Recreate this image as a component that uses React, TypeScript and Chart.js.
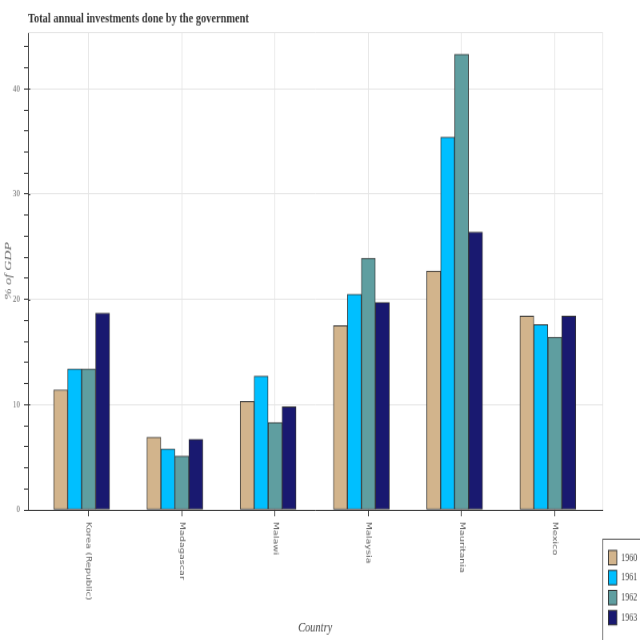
import React, { useEffect, useRef } from "react";
import { Chart, registerables } from "chart.js";

Chart.register(...registerables);

const chartTitle = "Total annual investments done by the government";
const countries = ["Korea (Republic)", "Madagascar", "Malawi", "Malaysia", "Mauritania", "Mexico"];
const years = ["1960", "1961", "1962", "1963"];
const v1960 = [11.4, 6.9, 10.3, 17.5, 22.7, 18.4];
const v1961 = [13.4, 5.8, 12.7, 20.5, 35.4, 17.6];
const v1962 = [13.4, 5.1, 8.3, 23.9, 43.3, 16.4];
const v1963 = [18.7, 6.7, 9.8, 19.7, 26.4, 18.4];
const seriesValues = [v1960, v1961, v1962, v1963];
const seriesColors = ["#D2B48C", "#00BFFF", "#5F9EA0", "#191970"];
const dodge = [-0.3, -0.15, 0, 0.15];
const yMax = 45.4;
const yMinorStep = 2;
const yMajorStep = 10;

const customPlugin = {
  id: "customDecor",
  beforeDatasetsDraw(chart: any) {
    const { ctx, chartArea: a } = chart;
    ctx.save();
    ctx.strokeStyle = "#e5e5e5";
    ctx.lineWidth = 1;
    ctx.beginPath();
    ctx.moveTo(a.left, Math.round(a.top) + 0.5);
    ctx.lineTo(Math.round(a.right) + 0.5, Math.round(a.top) + 0.5);
    ctx.lineTo(Math.round(a.right) + 0.5, a.bottom);
    ctx.stroke();
    ctx.restore();
  },
  afterDraw(chart: any) {
    const { ctx, chartArea: a } = chart;
    const xs = chart.scales.x;
    const ys = chart.scales.y;
    ctx.save();
    // title
    ctx.font = 'bold 13px "Liberation Serif", serif';
    ctx.fillStyle = "#333";
    ctx.textAlign = "left";
    ctx.textBaseline = "alphabetic";
    ctx.fillText(chartTitle, a.left, 20.5);

    // inward major ticks on y axis
    ctx.strokeStyle = "#333";
    ctx.lineWidth = 1;
    ys.ticks.forEach((t: any) => {
      if (t.value % yMajorStep === 0) {
        const py = Math.round(ys.getPixelForValue(t.value)) + 0.5;
        ctx.beginPath();
        ctx.moveTo(a.left, py);
        ctx.lineTo(a.left + 3, py);
        ctx.stroke();
      }
    });

    // x tick labels rotated clockwise
    ctx.font = '9px "DejaVu Sans", sans-serif';
    ctx.fillStyle = "#666";
    ctx.textAlign = "left";
    ctx.textBaseline = "middle";
    countries.forEach((c, i) => {
      const px = xs.getPixelForValue(i);
      ctx.save();
      ctx.translate(px, a.bottom + 11);
      ctx.rotate(Math.PI / 2);
      ctx.fillText(c, 0, 0);
      ctx.restore();
    });

    // legend
    const bx = Math.round(a.right) + 0.5;
    const by = 505.5;
    ctx.fillStyle = "#fff";
    ctx.fillRect(bx, by, 80, 120);
    ctx.strokeStyle = "#555";
    ctx.strokeRect(bx, by, 80, 120);
    ctx.font = '10px "Liberation Serif", serif';
    ctx.textBaseline = "middle";
    years.forEach((yr, k) => {
      const top = 516 + k * 18.75;
      ctx.fillStyle = seriesColors[k];
      ctx.fillRect(bx + 7, top, 10.5, 13.5);
      ctx.strokeStyle = "#333";
      ctx.strokeRect(bx + 7, top, 10.5, 13.5);
      ctx.fillStyle = "#444";
      ctx.fillText(yr, bx + 23, top + 7);
    });
    ctx.restore();
  },
};

export default function App() {
  const ref = useRef<HTMLCanvasElement>(null);
  useEffect(() => {
    document.body.style.margin = "0";
    const canvas = ref.current;
    if (!canvas) return;
    const datasets = years.map((yr, d) => ({
      label: yr,
      data: countries.map((_, i) => ({ x: i + dodge[d], y: seriesValues[d][i] })),
      backgroundColor: seriesColors[d],
      borderColor: "#333",
      borderWidth: 1,
      borderSkipped: false as any,
      grouped: false,
      barPercentage: 1,
      categoryPercentage: 1,
    }));
    const chart = new Chart(canvas, {
      type: "bar",
      data: { datasets },
      plugins: [customPlugin],
      options: {
        responsive: false,
        animation: false,
        devicePixelRatio: 1,
        layout: { padding: { top: 30, right: 47, left: 0, bottom: 0 } },
        plugins: { legend: { display: false }, tooltip: { enabled: false }, title: { display: false } },
        scales: {
          x: {
            type: "linear",
            position: "bottom",
            offset: false,
            min: -0.65,
            max: 5.51,
            afterBuildTicks: (scale: any) => {
              scale.ticks = countries.map((_, i) => ({ value: i }));
            },
            afterFit: (scale: any) => {
              scale.height = 122;
            },
            ticks: { display: false },
            grid: { offset: false, color: "#e5e5e5", tickColor: "#333", tickLength: 6, drawTicks: true },
            border: { color: "#333", width: 1 },
            title: {
              display: true,
              text: "Country",
              color: "#444",
              font: { family: '"Liberation Serif", serif', size: 13, style: "italic" },
              padding: { top: 0, bottom: 4 },
            },
          },
          y: {
            type: "linear",
            min: 0,
            max: yMax,
            afterBuildTicks: (scale: any) => {
              const t = [];
              for (let v = 0; v <= yMax; v += yMinorStep) t.push({ value: v });
              scale.ticks = t;
            },
            afterFit: (scale: any) => {
              scale.width = 35;
            },
            ticks: {
              autoSkip: false,
              padding: 5,
              color: "#666",
              font: { family: '"Liberation Serif", serif', size: 9 },
              callback: (v: any) => (Number(v) % yMajorStep === 0 ? String(v) : ""),
            },
            grid: {
              color: (c: any) => (c.tick && c.tick.value % yMajorStep === 0 ? "#e5e5e5" : "rgba(0,0,0,0)"),
              tickColor: "#333",
              tickLength: 5,
            },
            border: { color: "#333", width: 1 },
            title: {
              display: true,
              text: "% of GDP",
              color: "#666",
              font: { family: '"Liberation Serif", serif', size: 13, style: "italic" },
              padding: { top: 3, bottom: 0 },
            },
          },
        },
      } as any,
    });
    return () => chart.destroy();
  }, []);
  return (
    <canvas
      ref={ref}
      width={800}
      height={600}
      style={{ width: "640px", height: "640px", display: "block" }}
    />
  );
}
